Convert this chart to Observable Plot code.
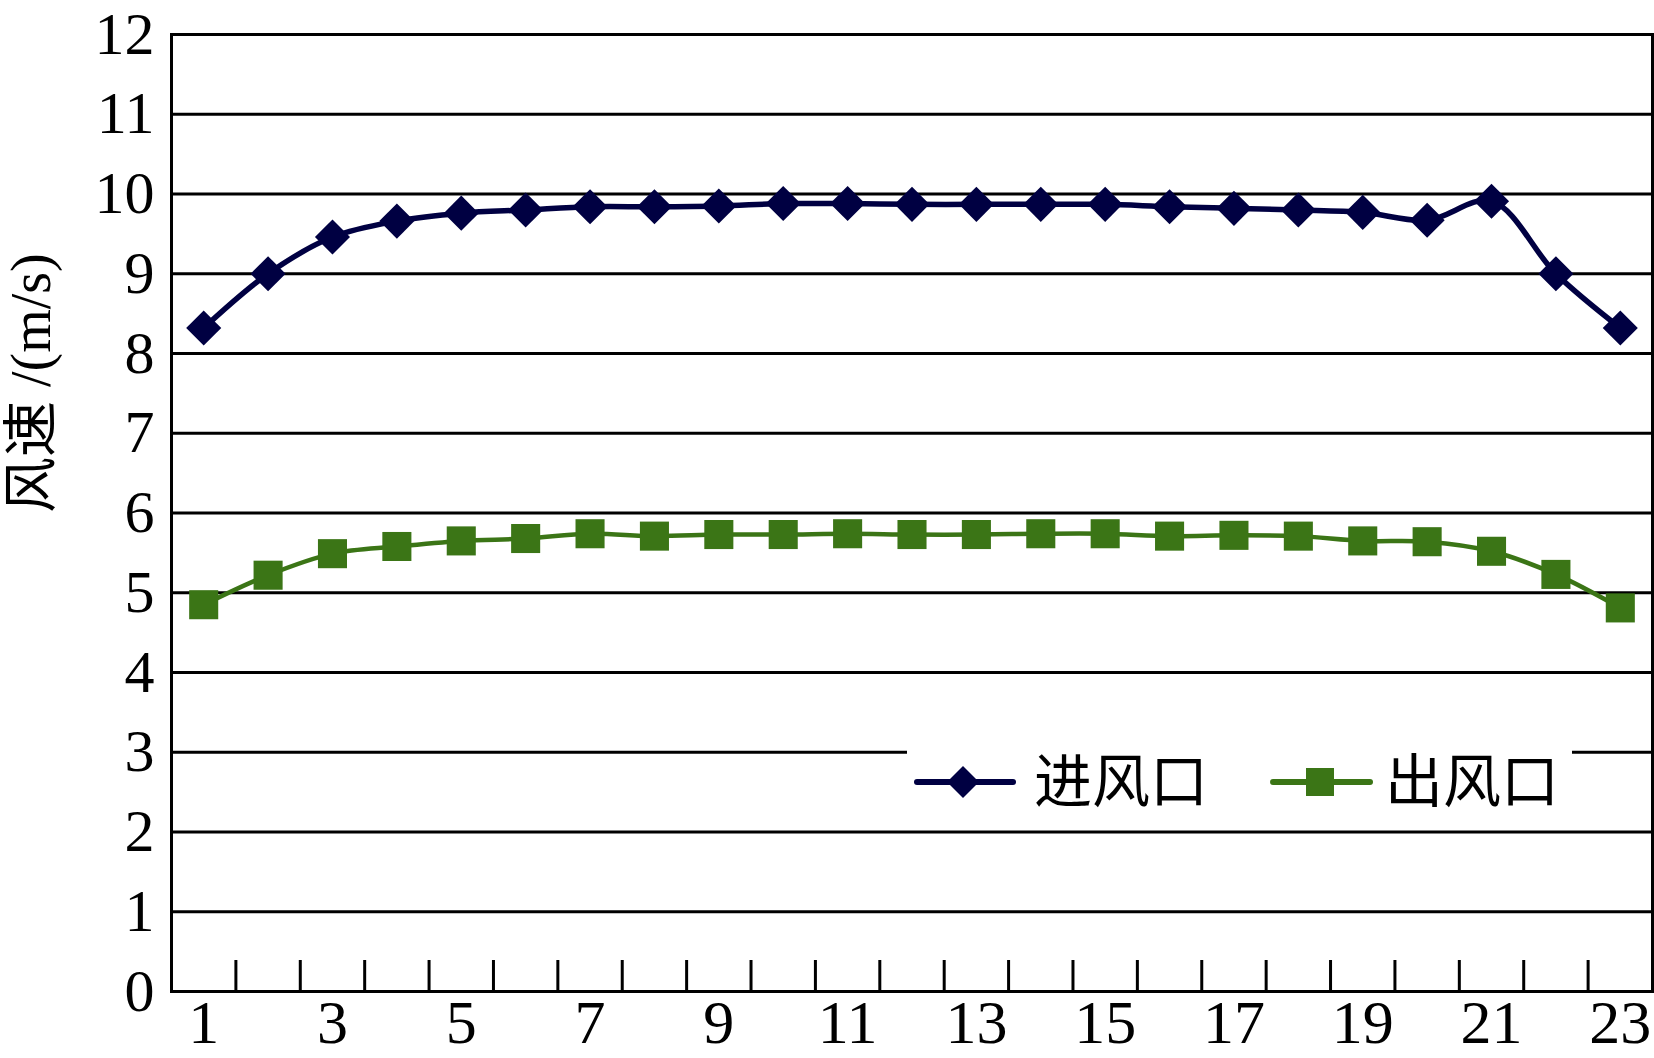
<!DOCTYPE html>
<html>
<head>
<meta charset="utf-8">
<script src="https://cdn.jsdelivr.net/npm/d3@7"></script>
<script src="https://cdn.jsdelivr.net/npm/@observablehq/plot@0.6"></script>
<style>
  html, body { margin: 0; padding: 0; background: #fff; }
  #wrap { position: relative; width: 1654px; height: 1058px; overflow: hidden; }
  #legend { position: absolute; left: 907px; top: 746px; width: 665px; height: 72px; background: #fff; }
</style>
</head>
<body>
<div id="wrap"><div id="chart"></div><div id="legend"></div></div>
<script>
const positions = [1,2,3,4,5,6,7,8,9,10,11,12,13,14,15,16,17,18,19,20,21,22,23];
const inlet  = [8.32, 9.00, 9.46, 9.66, 9.76, 9.80, 9.84, 9.84, 9.85, 9.88, 9.88, 9.87, 9.87, 9.87, 9.87, 9.84, 9.82, 9.80, 9.77, 9.67, 9.91, 9.00, 8.32];
const outlet = [4.85, 5.22, 5.49, 5.58, 5.65, 5.68, 5.74, 5.71, 5.73, 5.73, 5.74, 5.73, 5.73, 5.74, 5.74, 5.71, 5.72, 5.71, 5.65, 5.64, 5.52, 5.23, 4.81];
const yTicks = [0,1,2,3,4,5,6,7,8,9,10,11,12];
const xLabels = [1,3,5,7,9,11,13,15,17,19,21,23];
const seriesNames = ["进风口", "出风口"];
const yLabel = "风速 /(m/s)";

const navy = "#000042";
const green = "#3B7516";

const inData = positions.map((p, i) => ({x: p, y: inlet[i]}));
const outData = positions.map((p, i) => ({x: p, y: outlet[i]}));
const boundaries = positions.slice(1).map(p => p - 0.5);

const serif = "'Liberation Serif', 'Times New Roman', 'Noto Sans CJK SC', serif";

const chart = Plot.plot({
  width: 1654,
  height: 1058,
  marginLeft: 171,
  marginRight: 2,
  marginTop: 34,
  marginBottom: 67,
  x: {type: "linear", domain: [0.5, 23.5]},
  y: {domain: [0, 12]},
  style: {fontFamily: serif, background: "white", color: "black"},
  marks: [
    Plot.gridY(yTicks, {stroke: "black", strokeOpacity: 1, strokeWidth: 3}),
    Plot.axisY(yTicks, {tickSize: 0, tickPadding: 17, fontSize: 60, tickFormat: d => String(d), label: null}),
    Plot.axisX(boundaries, {tickSize: -31, strokeWidth: 3, tickFormat: () => "", label: null}),
    Plot.axisX(xLabels, {tickSize: 0, tickPadding: 7, fontSize: 62, tickFormat: d => String(d), label: null}),
    Plot.frame({stroke: "black", strokeWidth: 3}),
    Plot.text([yLabel], {frameAnchor: "left", rotate: -90, dx: -139, fontSize: 56, fontFamily: serif, fill: "black"}),
    Plot.line(inData, {x: "x", y: "y", curve: "catmull-rom", stroke: navy, strokeWidth: 5.5}),
    Plot.dot(inData, {x: "x", y: "y", symbol: "diamond2", r: 15.8, fill: navy, stroke: "none"}),
    Plot.line(outData, {x: "x", y: "y", curve: "catmull-rom", stroke: green, strokeWidth: 4.5}),
    Plot.dot(outData, {x: "x", y: "y", symbol: "square", r: 16.4, fill: green, stroke: "none"})
  ]
});
document.getElementById("chart").appendChild(chart);

// Legend
const ns = "http://www.w3.org/2000/svg";
const lg = document.createElementNS(ns, "svg");
lg.setAttribute("width", 665);
lg.setAttribute("height", 72);
const cy = 36;
function el(tag, attrs, text) {
  const e = document.createElementNS(ns, tag);
  for (const k in attrs) e.setAttribute(k, attrs[k]);
  if (text) e.textContent = text;
  lg.appendChild(e);
  return e;
}
// item 1
el("line", {x1: 10, x2: 106, y1: cy, y2: cy, stroke: navy, "stroke-width": 6, "stroke-linecap": "round"});
el("path", {d: `M56,${cy-16}L72,${cy}L56,${cy+16}L40,${cy}Z`, fill: navy});
el("text", {x: 127, y: cy, "font-size": 58, "font-family": serif, "dominant-baseline": "central", fill: "black"}, seriesNames[0]);
// item 2
el("line", {x1: 366, x2: 463, y1: cy, y2: cy, stroke: green, "stroke-width": 6, "stroke-linecap": "round"});
el("rect", {x: 399, y: cy-14, width: 28, height: 28, fill: green});
el("text", {x: 478, y: cy, "font-size": 58, "font-family": serif, "dominant-baseline": "central", fill: "black"}, seriesNames[1]);
document.getElementById("legend").appendChild(lg);
</script>
</body>
</html>
